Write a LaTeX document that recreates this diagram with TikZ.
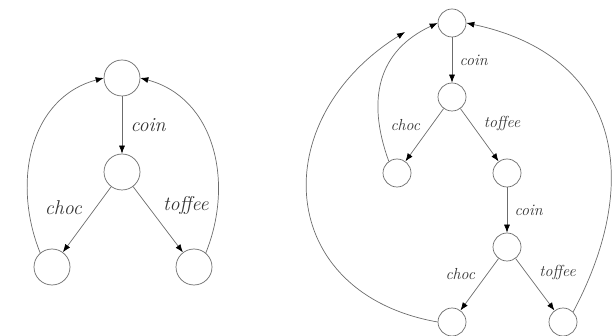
\documentclass[tikz,border=0pt]{standalone}
\usepackage{tikz}
\usetikzlibrary{arrows.meta, positioning}
\tikzset{
  statenode/.style={
    circle, draw=gray!85!black, line width=0.7pt, fill=white, inner sep=0pt
  },
  bigstate/.style={statenode, minimum size=36pt},
  smallstate/.style={statenode, minimum size=28pt},
  transarrow/.style={
    -{Latex[length=8pt, width=6pt, black]}, line width=0.7pt, draw=gray!85!black
  },
  biglabel/.style={font=\fontsize{20}{23}\selectfont\itshape, text=black!80},
  smalllabel/.style={font=\fontsize{16}{19}\selectfont\itshape, text=black!80},
}

\begin{document}
\begin{tikzpicture}[x=1pt, y=-1pt]
  \useasboundingbox (0,0) rectangle (612,336);

  % Left machine
  \node[bigstate] (ltop) at (122,78) {};
  \node[bigstate] (lmid) at (122,172) {};
  \node[bigstate] (lchoc) at (52,267) {};
  \node[bigstate] (ltoffee) at (194,267) {};

  \draw[transarrow] (ltop) -- node[biglabel, right=5pt] {coin} (lmid);
  \draw[transarrow] (lmid) -- node[biglabel, above left=2pt] {choc} (lchoc);
  \draw[transarrow] (lmid) -- node[biglabel, above right=2pt] {toffee} (ltoffee);
  \draw[transarrow] (lchoc.130) to[out=112, in=195, looseness=1.05] (ltop.west);
  \draw[transarrow] (ltoffee.50) to[out=68, in=-15, looseness=1.05] (ltop.east);

  % Right machine
  \node[smallstate] (rtop) at (452,23) {};
  \node[smallstate] (rone) at (452,97) {};
  \node[smallstate] (ronechoc) at (397,173) {};
  \node[smallstate] (ronetoffee) at (507,173) {};
  \node[smallstate] (rtwo) at (507,247) {};
  \node[smallstate] (rtwochoc) at (452,322) {};
  \node[smallstate] (rtwotoffee) at (563,322) {};
  \coordinate (rmerge) at (405,32);

  \draw[transarrow] (rtop) -- node[smalllabel, right=4pt] {coin} (rone);
  \draw[transarrow] (rone) -- node[smalllabel, above left=1pt] {choc} (ronechoc);
  \draw[transarrow] (rone) -- node[smalllabel, above right=1pt] {toffee} (ronetoffee);
  \draw[transarrow] (ronetoffee) -- node[smalllabel, right=4pt] {coin} (rtwo);
  \draw[transarrow] (rtwo) -- node[smalllabel, above left=1pt] {choc} (rtwochoc);
  \draw[transarrow] (rtwo) -- node[smalllabel, above right=1pt] {toffee} (rtwotoffee);
  \draw[transarrow] (ronechoc.125) to[out=110, in=205, looseness=1.15] (rtop.west);
  \draw[transarrow] (rtwochoc.west) to[out=170, in=212, looseness=1.45] (rmerge);
  \draw[transarrow] (rtwotoffee.45) to[out=62, in=-12, looseness=1.28] (rtop.east);
\end{tikzpicture}
\end{document}
